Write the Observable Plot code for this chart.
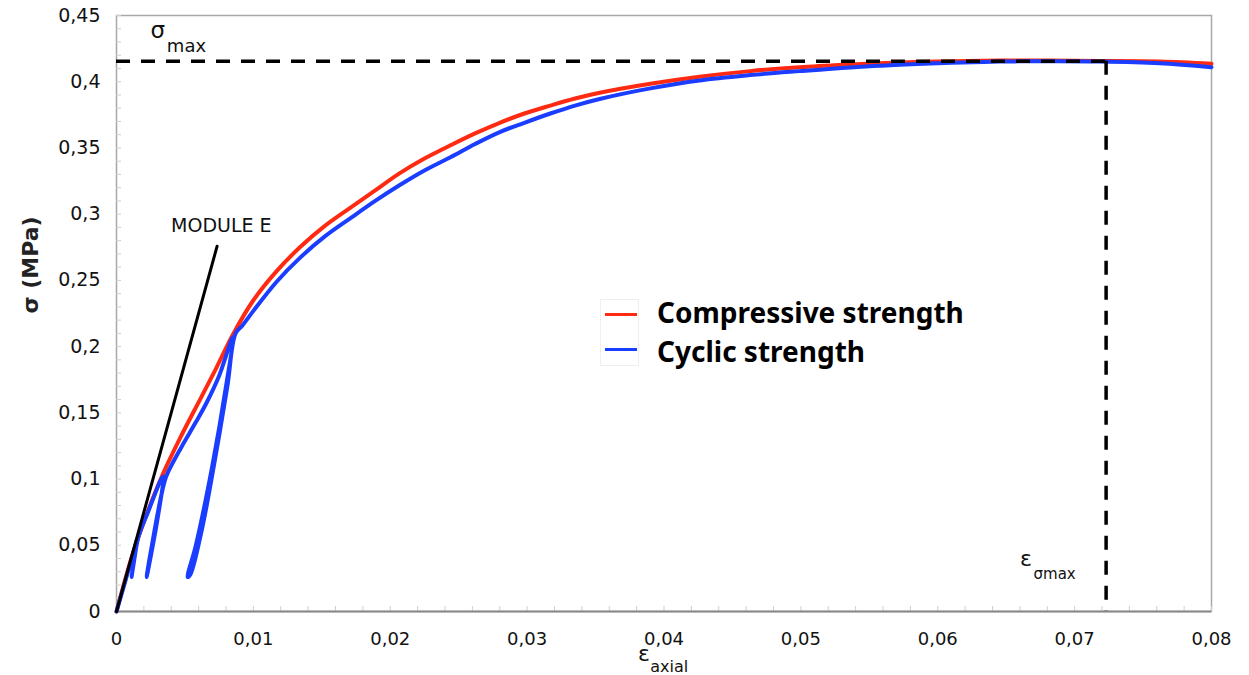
<!DOCTYPE html>
<html>
<head>
<meta charset="utf-8">
<script src="https://cdn.jsdelivr.net/npm/d3@7"></script>
<script src="https://cdn.jsdelivr.net/npm/@observablehq/plot@0.6"></script>
<style>
  body { margin: 0; background: #fff; }
  #wrap { position: relative; width: 1249px; height: 675px; overflow: hidden; }
  .lgbox { position: absolute; border: 1px solid #efefef; box-sizing: border-box; }
  .lgsw { position: absolute; height: 3px; }
  .lgtx { position: absolute; font-family: "Noto Sans", sans-serif; font-weight: 700; font-size: 28px; line-height: 32px; color: #000; white-space: nowrap; }
</style>
</head>
<body>
<div id="wrap"></div>
<script>
// ---- data ----
const seriesNames = ["Compressive strength", "Cyclic strength"];
const seriesColors = ["#ff2a12", "#1a3dff"];

// Compressive (monotonic) test
const redX = [0, 0.0012, 0.0023, 0.0034, 0.0047, 0.0061, 0.0073, 0.0085, 0.01, 0.0117, 0.0134, 0.0152, 0.0171, 0.0189, 0.0207, 0.0225, 0.0244, 0.0262, 0.028, 0.0298, 0.0317, 0.0335, 0.0353, 0.039, 0.0426, 0.0463, 0.0499, 0.0536, 0.0572, 0.061, 0.0645, 0.068, 0.0718, 0.0762, 0.08];
const redY = [0, 0.044, 0.076, 0.104, 0.132, 0.160, 0.184, 0.209, 0.235, 0.257, 0.275, 0.291, 0.305, 0.318, 0.331, 0.342, 0.352, 0.361, 0.369, 0.376, 0.382, 0.3873, 0.3917, 0.3985, 0.4038, 0.408, 0.411, 0.413, 0.4145, 0.4155, 0.416, 0.416, 0.4157, 0.4152, 0.4135];

// Cyclic test (three unload/reload loops)
const blueX = [0, 0.0012, 0.0015, 0.0011, 0.0016, 0.0023, 0.0034, 0.0030, 0.0022, 0.0025, 0.0036, 0.0042, 0.0049, 0.0058, 0.0066, 0.0075, 0.0085, 0.0080, 0.0070, 0.0058, 0.0052, 0.0054, 0.0062, 0.0072, 0.0081, 0.0087, 0.0092, 0.01, 0.0117, 0.0134, 0.0152, 0.0171, 0.0189, 0.0207, 0.0225, 0.0244, 0.0262, 0.028, 0.0298, 0.0317, 0.0335, 0.0353, 0.039, 0.0426, 0.0463, 0.0499, 0.0536, 0.0572, 0.061, 0.0645, 0.068, 0.0718, 0.0762, 0.08];
const blueY = [0, 0.043, 0.054, 0.026, 0.056, 0.075, 0.102, 0.070, 0.026, 0.045, 0.101, 0.114, 0.127, 0.143, 0.158, 0.178, 0.207, 0.170, 0.110, 0.050, 0.026, 0.028, 0.060, 0.115, 0.170, 0.210, 0.216, 0.227, 0.249, 0.267, 0.283, 0.297, 0.310, 0.322, 0.333, 0.343, 0.353, 0.362, 0.369, 0.376, 0.382, 0.387, 0.395, 0.401, 0.405, 0.408, 0.4108, 0.4128, 0.4143, 0.4152, 0.4155, 0.4153, 0.414, 0.411];

// Elastic modulus line
const moduleX = [0, 0.00735];
const moduleY = [0, 0.2758];

// Peak
const sigmaMax = 0.4155;
const epsSigmaMax = 0.0723;

// Tick labels
const xTicks = [0, 0.01, 0.02, 0.03, 0.04, 0.05, 0.06, 0.07, 0.08];
const yTicks = [0, 0.05, 0.1, 0.15, 0.2, 0.25, 0.3, 0.35, 0.4, 0.45];

// Annotation texts and anchors
const annoText = ["MODULE E", "σ", "max", "ε", "σmax", "ε", "axial"];
const annoX = [0.00766, 0.00248, 0.00368, 0.0660, 0.0670, 0.0381, 0.0390];
const annoY = [0.2915, 0.4327, 0.4221, 0.0347, 0.0249, -0.0372, -0.0458];

// ---- build ----
const fmt = d => d3.format(".2~f")(d).replace(".", ",");
const red = redX.map((x, i) => ({x, y: redY[i]}));
const blue = blueX.map((x, i) => ({x, y: blueY[i]}));
const modLine = moduleX.map((x, i) => ({x, y: moduleY[i]}));
const annoSizes = [19, 23, 18, 22, 15, 22, 16];
const annos = annoText.map((t, i) => ({t, x: annoX[i], y: annoY[i], s: annoSizes[i]}));
const minorX = d3.range(0, 41).map(i => i * 0.002);
const minorY = d3.range(0, 46).map(i => i * 0.01);

const chart = Plot.plot({
  width: 1249,
  height: 675,
  marginLeft: 116,
  marginRight: 38,
  marginTop: 15,
  marginBottom: 64,
  style: {fontFamily: "DejaVu Sans", background: "white", color: "#111", overflow: "visible"},
  x: {domain: [0, 0.08]},
  y: {domain: [0, 0.45]},
  marks: [
    Plot.frame({stroke: "#a8a8a8", strokeWidth: 1.5}),
    Plot.axisX(minorX, {tickSize: -5, text: null, stroke: "#cfcfcf", label: null}),
    Plot.axisY(minorY, {tickSize: -5, text: null, stroke: "#cfcfcf", label: null}),
    Plot.axisX(xTicks, {tickSize: 0, tickPadding: 21, tickFormat: fmt, fontSize: 18, label: null}),
    Plot.axisY(yTicks, {tickSize: 0, tickPadding: 16, tickFormat: fmt, fontSize: 19, label: null}),
    Plot.ruleY([0], {stroke: "#8a8a8a", strokeWidth: 2}),
    Plot.text(["σ (MPa)"], {frameAnchor: "left", rotate: -90, dx: -86, fontSize: 22, fontWeight: 700, fill: "#222"}),
    Plot.line(red, {x: "x", y: "y", stroke: seriesColors[0], strokeWidth: 4, curve: "catmull-rom"}),
    Plot.line(blue, {x: "x", y: "y", stroke: seriesColors[1], strokeWidth: 4, curve: "catmull-rom", strokeLinejoin: "round"}),
    Plot.line(modLine, {x: "x", y: "y", stroke: "#000", strokeWidth: 3}),
    Plot.ruleY([sigmaMax], {x1: 0, x2: epsSigmaMax, stroke: "#000", strokeWidth: 3.5, strokeDasharray: "14,11"}),
    Plot.ruleX([epsSigmaMax], {y1: sigmaMax, y2: 0, stroke: "#000", strokeWidth: 3.5, strokeDasharray: "14,11"}),
    Plot.text(annos.slice(0, 1), {x: "x", y: "y", text: "t", fontSize: "s", textAnchor: "middle", lineAnchor: "middle", fill: "#111"}),
    Plot.text(annos.slice(1), {x: "x", y: "y", text: "t", fontSize: "s", textAnchor: "start", lineAnchor: "bottom", fill: "#111", clip: false})
  ]
});

const wrap = document.getElementById("wrap");
wrap.appendChild(chart);

// legend (HTML overlay)
const box = document.createElement("div");
box.className = "lgbox";
Object.assign(box.style, {left: "600px", top: "299px", width: "39px", height: "67px"});
wrap.appendChild(box);
const swTop = [313, 348];
const txTop = [296, 335];
seriesNames.forEach((name, i) => {
  const sw = document.createElement("div");
  sw.className = "lgsw";
  Object.assign(sw.style, {left: "605px", top: swTop[i] + "px", width: "32px", background: seriesColors[i]});
  wrap.appendChild(sw);
  const tx = document.createElement("div");
  tx.className = "lgtx";
  Object.assign(tx.style, {left: "657px", top: txTop[i] + "px"});
  tx.textContent = name;
  wrap.appendChild(tx);
});
</script>
</body>
</html>
